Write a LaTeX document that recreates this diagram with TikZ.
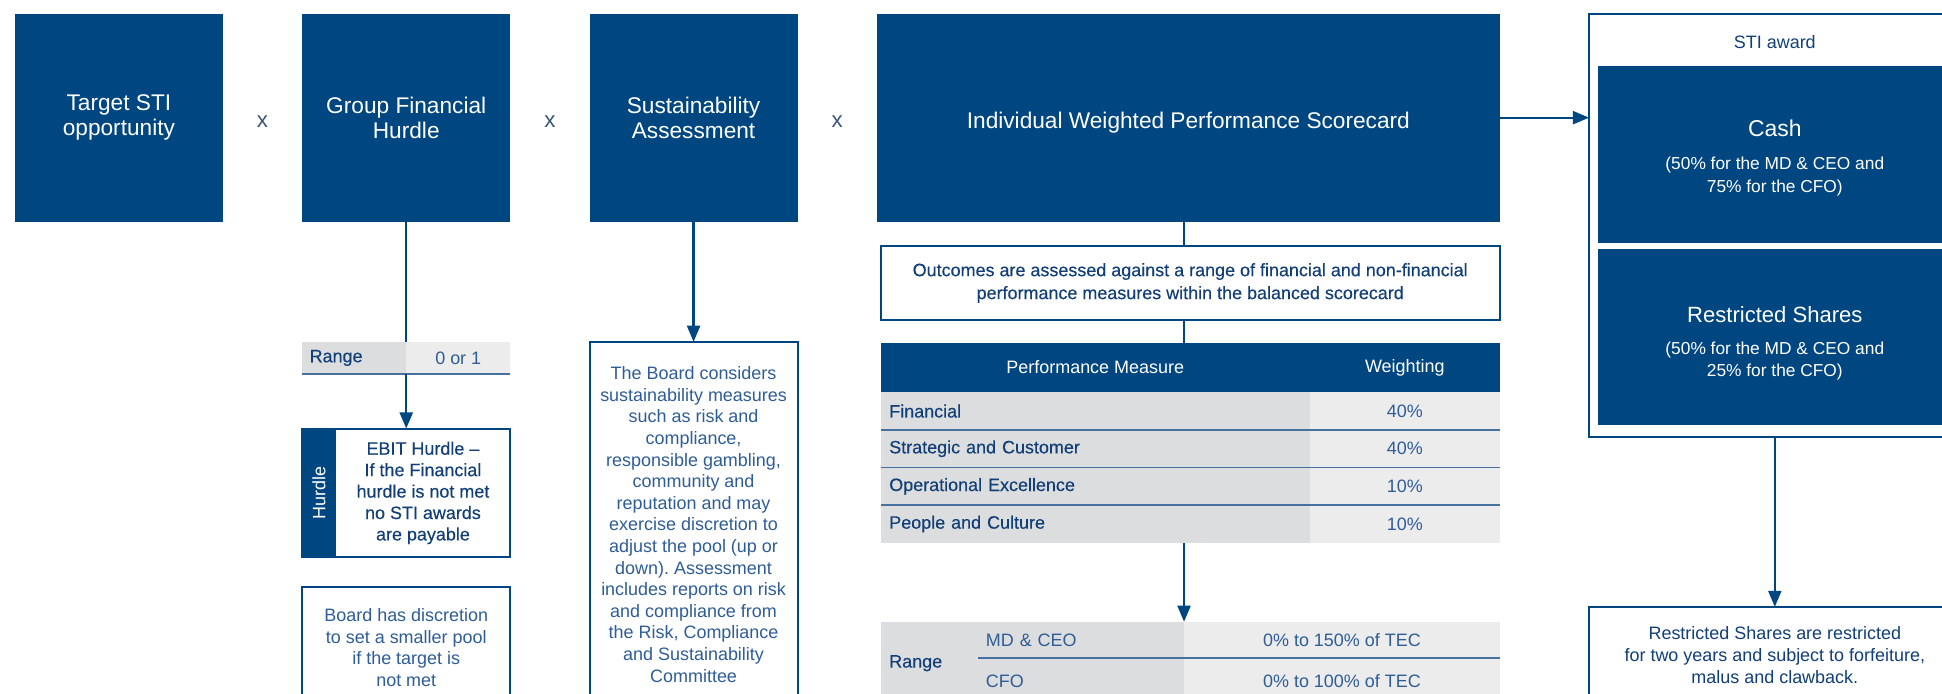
\documentclass[tikz,border=0pt]{standalone}
\usepackage{fontspec}
\setmainfont{Liberation Sans}
\newfontfamily\medfont[FakeBold=0.3]{Liberation Sans}
\usepackage{tikz}
\usetikzlibrary{positioning,arrows.meta,calc}
\usepackage{xcolor}
\definecolor{navy}{HTML}{004680}
\definecolor{deepblue}{HTML}{123F77}
\definecolor{inkblue}{HTML}{2F5D96}
\definecolor{timesgrey}{HTML}{3A5577}
\definecolor{cellgrey}{HTML}{DCDDDF}
\definecolor{celllight}{HTML}{ECECED}
\definecolor{rowline}{HTML}{46709E}
\tikzset{
  droptext/.style={execute at begin node={\rule{0pt}{#1}}},
  bluebox/.style={fill=navy,text=white,inner sep=0pt,outer sep=0pt,align=center},
  topbox/.style={bluebox,minimum width=168pt,minimum height=168pt,droptext=20.5pt,font=\fontsize{18.3}{20.5}\selectfont},
  notebox/.style={draw=navy,line width=1.6pt,fill=white,text=inkblue,align=center,inner xsep=0pt,outer sep=0pt,font=\fontsize{14.5}{18.5}\selectfont},
  timessign/.style={text=timesgrey,yshift=-3pt,font=\fontsize{18}{20}\selectfont},
  smalltext/.style={align=center,font=\fontsize{14.5}{17.5}\selectfont},
  measurecell/.style={fill=cellgrey,text=deepblue,minimum height=30.4pt,inner xsep=7pt,inner ysep=0pt,outer sep=0pt,text width=332.6pt,align=left,font=\medfont\fontsize{14.5}{17}\selectfont},
  weightcell/.style={fill=celllight,text=inkblue,minimum width=153.4pt,minimum height=30.4pt,inner sep=0pt,outer sep=0pt,font=\fontsize{14.5}{17}\selectfont},
  rowrule/.style={draw=rowline,line width=1.3pt},
  every edge/.style={draw=navy,line width=1.8pt},
  arrowtip/.style={-{Triangle[length=13pt,width=10.5pt]}},
}
\begin{document}
\frenchspacing
\begin{tikzpicture}[x=1pt,y=-1pt]
\useasboundingbox (0,0) rectangle (1568,560);
\clip (0,0) rectangle (1568,560);

\node[topbox] (tgt) at (96,95) {Target STI\\opportunity};
\node[topbox,right=64pt of tgt] (hurdle) {Group Financial\\Hurdle};
\node[topbox,right=64pt of hurdle] (sust) {Sustainability\\Assessment};
\node[topbox,right=64pt of sust,minimum width=503pt] (score) {Individual Weighted Performance Scorecard};
\node[timessign] (x1) at ($(tgt.east)!0.5!(hurdle.west)$) {x};
\node[timessign] (x2) at ($(hurdle.east)!0.5!(sust.west)$) {x};
\node[timessign] (x3) at ($(sust.east)!0.5!(score.west)$) {x};

\node[fill=cellgrey,text=deepblue,minimum height=26pt,inner xsep=6pt,inner ysep=0pt,outer sep=0pt,
  text width=72pt,align=left,font=\medfont\fontsize{14.5}{17}\selectfont,anchor=north west]
  (rlab) at ($(hurdle.south west)+(0,97)$) {Range};
\node[fill=celllight,text=inkblue,minimum width=84pt,minimum height=26pt,inner sep=0pt,outer sep=0pt,
  font=\fontsize{14.5}{17}\selectfont,right=0pt of rlab] (rval) {0 or 1};
\draw[rowrule] (rlab.south west) -- (rval.south east);

\node[notebox,minimum width=168pt,minimum height=104pt,anchor=north west] (hbox) at ($(rlab.south west)+(0,44)$) {};
\node[fill=navy,minimum width=27pt,minimum height=104pt,inner sep=0pt,outer sep=0pt,anchor=north west] (strip) at (hbox.north west) {};
\node[rotate=90,text=white,font=\fontsize{14.5}{17}\selectfont] (striplbl) at (strip) {Hurdle};
\node[text=deepblue,align=center,font=\medfont\fontsize{14.5}{17.3}\selectfont] (htext) at ($(strip.east)!0.5!(hbox.east)$)
  {EBIT Hurdle \textendash\\If the Financial\\hurdle is not met\\no STI awards\\are payable};
\node[notebox,minimum width=168pt,inner ysep=17pt,anchor=north west,font=\fontsize{14.5}{17.7}\selectfont]
  (board) at ($(hbox.south west)+(0,24)$) {Board has discretion\\to set a smaller pool\\if the target is\\not met};

\node[notebox,minimum width=168pt,inner ysep=20pt,below=97pt of sust,font=\fontsize{14.5}{17.45}\selectfont] (sustnote)
  {The Board considers\\sustainability measures\\such as risk and\\compliance,\\responsible gambling,\\community and\\reputation and may\\exercise discretion to\\adjust the pool (up or\\down). Assessment\\includes reports on risk\\and compliance from\\the Risk, Compliance\\and Sustainability\\Committee};

\coordinate (spine) at (956,0);
\node[notebox,text=deepblue,minimum width=500pt,minimum height=59pt,anchor=north west,droptext=17.5pt,font=\medfont\fontsize{14.5}{18.5}\selectfont]
  (outc) at (711,199) {Outcomes are assessed against a range of financial and non-financial\\performance measures within the balanced scorecard};
\node[bluebox,minimum width=346.6pt,minimum height=40pt,anchor=north west,font=\fontsize{14.5}{17}\selectfont] (mhead) at (711,276.7) {Performance Measure};
\node[bluebox,minimum width=153.4pt,minimum height=40pt,right=0pt of mhead,font=\fontsize{14.5}{17}\selectfont] (whead) {Weighting};
\node[measurecell,below=0pt of mhead] (m1) {Financial};
\node[weightcell,right=0pt of m1] (w1) {40\%};
\node[measurecell,below=0pt of m1] (m2) {Strategic and Customer};
\node[weightcell,right=0pt of m2] (w2) {40\%};
\node[measurecell,below=0pt of m2] (m3) {Operational Excellence};
\node[weightcell,right=0pt of m3] (w3) {10\%};
\node[measurecell,below=0pt of m3] (m4) {People and Culture};
\node[weightcell,right=0pt of m4] (w4) {10\%};
\draw[rowrule] (m1.south west) -- (w1.south east);
\draw[rowrule] (m2.south west) -- (w2.south east);
\draw[rowrule] (m3.south west) -- (w3.south east);

\node[fill=cellgrey,text=deepblue,minimum height=67pt,inner xsep=7pt,inner ysep=0pt,outer sep=0pt,text width=65pt,align=left,
  font=\medfont\fontsize{14.5}{17}\selectfont,anchor=north west] (tlab) at (711,502) {Range};
\node[fill=cellgrey,text=inkblue,minimum height=29.5pt,inner xsep=6pt,inner ysep=0pt,outer sep=0pt,text width=154pt,align=left,
  font=\fontsize{14.5}{17}\selectfont,anchor=north west] (tceo) at (tlab.north east) {MD \& CEO};
\node[fill=cellgrey,text=inkblue,minimum height=37.5pt,inner xsep=6pt,inner ysep=0pt,outer sep=0pt,text width=154pt,align=left,
  font=\fontsize{14.5}{17}\selectfont,below=0pt of tceo] (tcfo) {CFO};
\node[fill=celllight,text=inkblue,minimum width=255pt,minimum height=29.5pt,inner sep=0pt,outer sep=0pt,
  font=\fontsize{14.5}{17}\selectfont,anchor=north west] (tceov) at (tceo.north east) {0\% to 150\% of TEC};
\node[fill=celllight,text=inkblue,minimum width=255pt,minimum height=37.5pt,inner sep=0pt,outer sep=0pt,
  font=\fontsize{14.5}{17}\selectfont,below=0pt of tceov] (tcfov) {0\% to 100\% of TEC};
\draw[rowrule] (tceo.south west) -- (tceov.south east);

\node[draw=navy,line width=1.6pt,minimum width=300pt,minimum height=342pt,inner sep=0pt,outer sep=0pt] (award) at (1433,182) {};
\node[text=deepblue,font=\fontsize{14.5}{17}\selectfont] (awardlbl) at ([yshift=-23pt]award.north) {STI award};
\node[bluebox,minimum width=286pt,minimum height=143pt] (cash) at (1433,124.5) {};
\node[bluebox,minimum width=286pt,minimum height=142pt,below=5pt of cash] (shares) {};
\node[text=white,font=\fontsize{18.5}{21}\selectfont] (cashttl) at ([yshift=21pt]cash.center) {Cash};
\node[text=white,smalltext,font=\fontsize{14}{18}\selectfont] (cashtxt) at ([yshift=-18pt]cash.center) {(50\% for the MD \& CEO and\\75\% for the CFO)};
\node[text=white,font=\fontsize{17.8}{21}\selectfont] (sharesttl) at ([yshift=18pt]shares.center) {Restricted Shares};
\node[text=white,smalltext,font=\fontsize{14}{18}\selectfont] (sharestxt) at ([yshift=-19.5pt]shares.center) {(50\% for the MD \& CEO and\\25\% for the CFO)};
\node[notebox,text=deepblue,minimum width=300pt,inner ysep=16pt,below=137pt of award,font=\fontsize{14.5}{17.5}\selectfont]
  (restrict) {Restricted Shares are restricted\\for two years and subject to forfeiture,\\malus and clawback.};

\path
(hurdle) edge (rval.north west)
(rval.south west) edge[arrowtip] (hbox)
(sust) edge[arrowtip] (sustnote)
(score.south -| spine) edge (outc.north -| spine)
(outc.south -| spine) edge (mhead.north -| spine)
(m4.south -| spine) edge[arrowtip] (tceo.north east)
(score.east) edge[arrowtip] (score.east -| award.west)
(award) edge[arrowtip] (restrict);

\end{tikzpicture}
\end{document}
